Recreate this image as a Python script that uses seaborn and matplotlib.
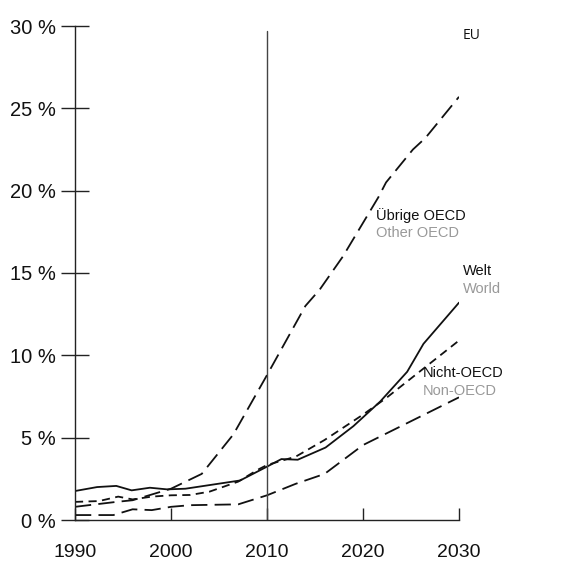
import matplotlib
matplotlib.use("Agg")
import matplotlib.pyplot as plt
import seaborn as sns

# -------------------- Data (share in %) --------------------
years_welt = [1990, 1992.3, 1994.3, 1995.9, 1997.8, 1999.6, 2001.5, 2007.2, 2010, 2011.5, 2013.2, 2016.1, 2019, 2021.8, 2024.6, 2026.3, 2030]
welt = [1.76, 2.0, 2.07, 1.8, 1.96, 1.86, 1.9, 2.4, 3.24, 3.7, 3.66, 4.4, 5.7, 7.2, 9.0, 10.7, 13.2]

years_other = [1990, 1994.3, 1996, 2000, 2003.2, 2006.5, 2010, 2014, 2015.5, 2017.9, 2021.6, 2022.4, 2025.2, 2026.5, 2030]
other_oecd = [0.8, 1.1, 1.2, 1.9, 2.8, 5.2, 8.8, 13.0, 14.0, 16.0, 19.6, 20.5, 22.5, 23.2, 25.7]

years_non = [1990, 1992.5, 1994.5, 1996, 1998, 2000, 2002, 2004, 2007, 2009, 2010, 2013, 2016, 2020, 2022.4, 2030]
non_oecd = [1.1, 1.15, 1.42, 1.25, 1.42, 1.5, 1.52, 1.72, 2.33, 3.04, 3.34, 3.85, 4.86, 6.4, 7.4, 10.9]

years_eu = [1990, 1994, 1996, 1998, 2000, 2002, 2007, 2010, 2013, 2016, 2020, 2030]
eu = [0.3, 0.3, 0.65, 0.6, 0.8, 0.9, 0.95, 1.5, 2.2, 2.8, 4.55, 7.45]

yticks = [0, 5, 10, 15, 20, 25, 30]
ytick_labels = ["0 %", "5 %", "10 %", "15 %", "20 %", "25 %", "30 %"]
xticks = [1990, 2000, 2010, 2020, 2030]

# -------------------- Style Settings --------------------
sns.set_theme(style="white")
plt.rcParams["font.family"] = ["Liberation Sans", "DejaVu Sans"]

fig = plt.figure(figsize=(5.63, 5.64), dpi=100)
ax = fig.add_axes([75 / 563, 44 / 564, 384 / 563, 494 / 564])

long_dash = (0, (9, 4))
short_dash = (0, (4.5, 3))
sns.lineplot(x=years_welt, y=welt, ax=ax, color="#111111", linewidth=1.3)
sns.lineplot(x=years_other, y=other_oecd, ax=ax, color="#111111", linewidth=1.3,
             linestyle=long_dash)
sns.lineplot(x=years_non, y=non_oecd, ax=ax, color="#111111", linewidth=1.3,
             linestyle=short_dash)
sns.lineplot(x=years_eu, y=eu, ax=ax, color="#111111", linewidth=1.3,
             linestyle=long_dash)

ax.axvline(2010, ymax=29.7 / 30, color="#444444", linewidth=1.0)

ax.set_xlim(1990, 2030)
ax.set_ylim(0, 30)
ax.set_xticks(xticks)
ax.set_xticklabels([str(x) for x in xticks])
ax.set_yticks(yticks)
ax.set_yticklabels(ytick_labels)
ax.tick_params(axis="x", direction="in", length=9, width=1, color="#222222",
               labelsize=14, pad=17, labelcolor="#111111", bottom=True)
ax.tick_params(axis="y", direction="inout", length=20, width=1, color="#222222",
               labelsize=14.5, pad=4, labelcolor="#111111", left=True)

for s in ["top", "right"]:
    ax.spines[s].set_visible(False)
for s in ["left", "bottom"]:
    ax.spines[s].set_color("#222222")
    ax.spines[s].set_linewidth(1.0)

# -------------------- Labels --------------------
fs = 10.5
ax.text(2030.4, 29.4, "EU", fontsize=10, color="#111111", family=["Open Sans", "DejaVu Sans"],
        va="center", ha="left")
ax.text(2021.4, 18.5, "Übrige OECD", fontsize=fs, color="#111111", va="center")
ax.text(2021.4, 17.4, "Other OECD", fontsize=fs, color="#999999", va="center")
ax.text(2030.4, 15.1, "Welt", fontsize=fs, color="#111111", va="center")
ax.text(2030.4, 14.0, "World", fontsize=fs, color="#999999", va="center")
ax.text(2026.2, 8.95, "Nicht-OECD", fontsize=fs, color="#111111", va="center")
ax.text(2026.2, 7.85, "Non-OECD", fontsize=fs, color="#999999", va="center")

fig.savefig("out.png", dpi=100)
plt.close(fig)
